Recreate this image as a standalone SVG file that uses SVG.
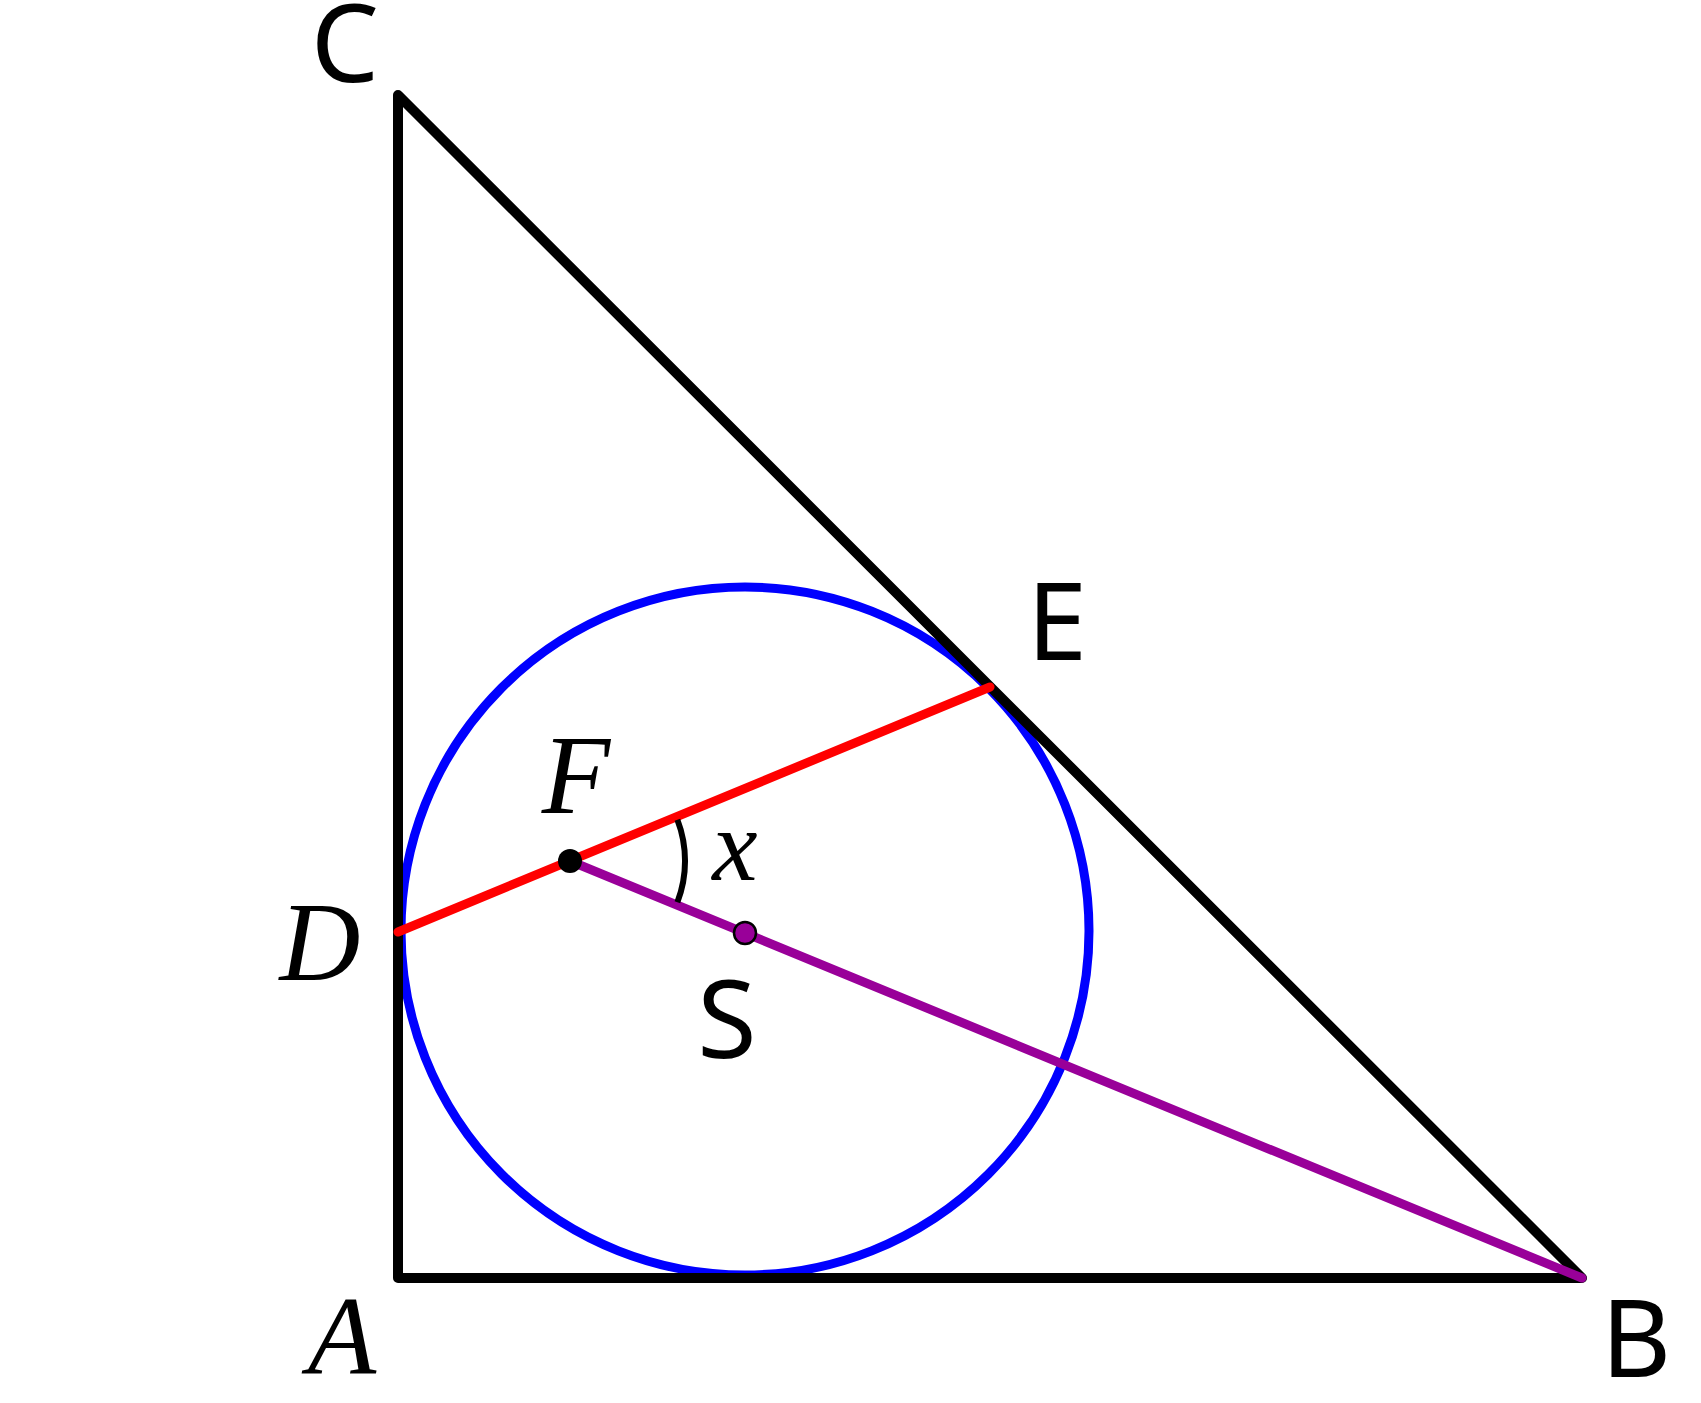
<svg xmlns="http://www.w3.org/2000/svg" width="1701" height="1403" viewBox="0 0 1701 1403">
<style>
.lbl{font-family:"Noto Sans","Open Sans",sans-serif;font-size:108px;fill:#000;text-anchor:middle}
.math{font-family:"Liberation Serif",serif;font-style:italic;font-size:112px;fill:#000;text-anchor:middle}
.seg{fill:none;stroke-linecap:round;stroke-linejoin:round}
</style>
<rect width="1701" height="1403" fill="#fff"/>
<g id="circle"><circle cx="745" cy="931" r="344" fill="none" stroke="#0000ff" stroke-width="9"/></g>
<g id="connectors">
<polyline class="seg" points="398,95 398,1278 1582,1278 398,95" stroke="#000" stroke-width="10"/>
<line class="seg" x1="398" y1="932" x2="990" y2="687" stroke="#ff0000" stroke-width="9"/>
<line class="seg" x1="570" y1="861" x2="1582" y2="1278" stroke="#990099" stroke-width="9"/>
<path d="M677.4,819.8 A115,115 0 0 1 677.4,902.2" fill="none" stroke="#000" stroke-width="6"/>
</g>
<g id="C"><text class="lbl" x="345" y="82">C</text></g>
<g id="A"><text class="math" x="342" y="1374">A</text></g>
<g id="B"><text class="lbl" x="1636" y="1377">B</text></g>
<g id="E"><text class="lbl" x="1057" y="660">E</text></g>
<g id="D"><text class="math" x="320" y="980">D</text></g>
<g id="F"><circle cx="570" cy="861" r="12" fill="#000"/><text class="math" x="576" y="813">F</text></g>
<g id="S"><circle cx="745" cy="933" r="11" fill="#990099" stroke="#000" stroke-width="2.5"/><text class="lbl" x="727" y="1058">S</text></g>
<g id="angle-x"><text class="math" style="font-size:102px" x="735" y="880">x</text></g>
</svg>
